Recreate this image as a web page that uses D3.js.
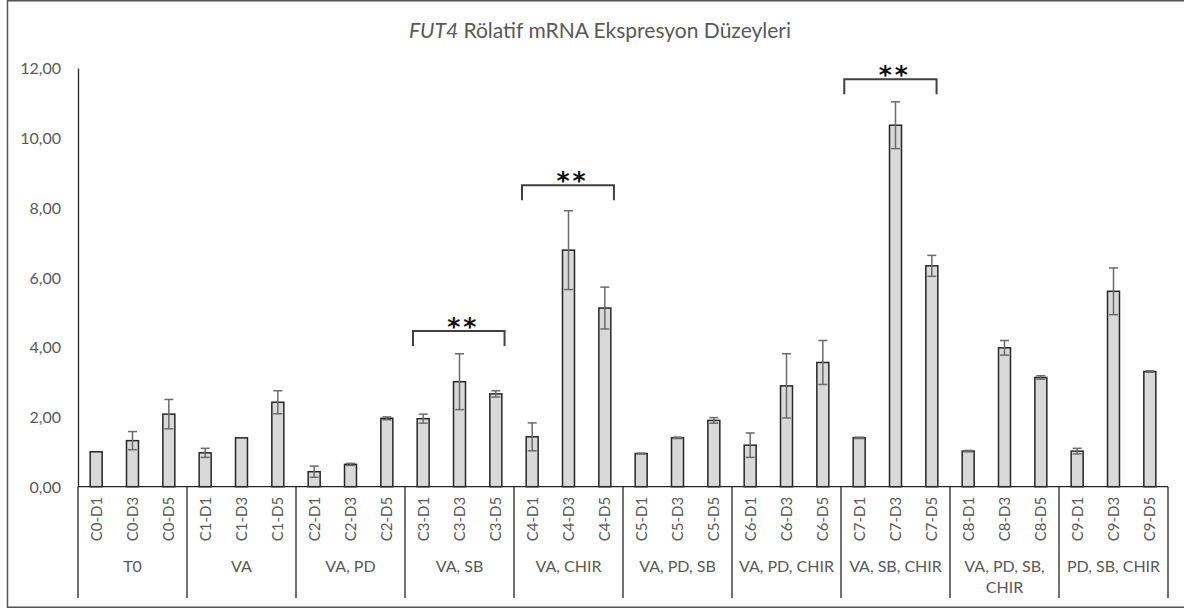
<!DOCTYPE html>
<html>
<head>
<meta charset="utf-8">
<script src="https://cdn.jsdelivr.net/npm/d3@7"></script>
<style>
  body { margin: 0; background: #fff; }
  text { font-family: Lato, "Open Sans", sans-serif; }
</style>
</head>
<body>
<script>
//data
var barLabels = ["C0-D1","C0-D3","C0-D5","C1-D1","C1-D3","C1-D5","C2-D1","C2-D3","C2-D5",
  "C3-D1","C3-D3","C3-D5","C4-D1","C4-D3","C4-D5","C5-D1","C5-D3","C5-D5",
  "C6-D1","C6-D3","C6-D5","C7-D1","C7-D3","C7-D5","C8-D1","C8-D3","C8-D5",
  "C9-D1","C9-D3","C9-D5"];
var barValues = [1.00,1.32,2.08, 0.97,1.40,2.42, 0.43,0.64,1.96,
  1.95,3.01,2.66, 1.43,6.78,5.12, 0.95,1.40,1.90,
  1.19,2.89,3.56, 1.40,10.36,6.33, 1.02,3.98,3.13,
  1.02,5.60,3.30];
var barErrors = [0,0.26,0.42, 0.13,0,0.33, 0.16,0.03,0.04,
  0.13,0.80,0.09, 0.40,1.13,0.60, 0.01,0.02,0.08,
  0.35,0.92,0.63, 0.02,0.67,0.30, 0.02,0.21,0.05,
  0.08,0.67,0.02];
var groupLabels = ["T0","VA","VA, PD","VA, SB","VA, CHIR","VA, PD, SB","VA, PD, CHIR",
  "VA, SB, CHIR","VA, PD, SB, CHIR","PD, SB, CHIR"];
var yTicks = [0,2,4,6,8,10,12];
//significance brackets: start/end in bar slots, height in data units
var sigStart = [9.22, 12.22, 21.09];
var sigEnd = [11.74, 14.75, 23.63];
var sigLevel = [4.46, 8.64, 11.68];
var sigText = ["**","**","**"];

var svgWidth = 1184;
var svgHeight = 609;
var plot = {left: 78, right: 1168, top: 68, bottom: 486.7};
var labelBottom = 598;

var svg = d3.select("body")
  .append("svg")
  .attr("width", svgWidth)
  .attr("height", svgHeight);

//outer frame
svg.append("rect")
  .attr("x", 7.5).attr("y", 0.75)
  .attr("width", 1190).attr("height", 606.5)
  .attr("fill", "none")
  .attr("stroke", "#555")
  .attr("stroke-width", 1.5);

//scales
var xScale = d3.scaleBand()
  .domain(barLabels)
  .range([plot.left, plot.right])
  .padding(0);
var slotScale = d3.scaleLinear()
  .domain([0, barLabels.length])
  .range([plot.left, plot.right]);
var yScale = d3.scaleLinear()
  .domain([0, 12])
  .range([plot.bottom, plot.top]);

var fmt = function(d) { return d3.format(".2f")(d).replace(".", ","); };

//y axis
var leftAxis = d3.axisLeft(yScale)
  .tickValues(yTicks)
  .tickSize(0)
  .tickPadding(17)
  .tickFormat(fmt);
var yAxis = svg.append("g")
  .attr("transform", `translate(${plot.left}, 0)`)
  .call(leftAxis);
yAxis.select(".domain").attr("stroke", "#262626").attr("stroke-width", 1.3);
yAxis.selectAll("text")
  .attr("fill", "#595959")
  .style("font-size", "16px")
  .attr("dy", "0.36em");

//left axis line carried down through the label area
svg.append("line")
  .attr("x1", plot.left).attr("x2", plot.left)
  .attr("y1", plot.bottom).attr("y2", labelBottom)
  .attr("stroke", "#262626").attr("stroke-width", 1.3);

//bars
var barW = xScale.bandwidth() * 0.33;
svg.append("g").selectAll("rect")
  .data(barLabels)
  .enter()
  .append("rect")
  .attr("x", d => xScale(d) + xScale.bandwidth() / 2 - barW / 2)
  .attr("y", (d, i) => yScale(barValues[i]))
  .attr("width", barW)
  .attr("height", (d, i) => plot.bottom - yScale(barValues[i]))
  .attr("fill", "#d9d9d9")
  .attr("stroke", "#262626")
  .attr("stroke-width", 1.5);

//error bars
var errGroup = svg.append("g")
  .attr("stroke", "#6b6b6b")
  .attr("stroke-width", 1.5);
barLabels.forEach(function(d, i) {
  if (barErrors[i] <= 0) return;
  var cx = xScale(d) + xScale.bandwidth() / 2;
  var hi = yScale(barValues[i] + barErrors[i]);
  var lo = yScale(barValues[i] - barErrors[i]);
  errGroup.append("line").attr("x1", cx).attr("x2", cx).attr("y1", hi).attr("y2", lo);
  errGroup.append("line").attr("x1", cx - 4.5).attr("x2", cx + 4.5).attr("y1", hi).attr("y2", hi);
  errGroup.append("line").attr("x1", cx - 4.5).attr("x2", cx + 4.5).attr("y1", lo).attr("y2", lo);
});

//x axis baseline
svg.append("line")
  .attr("x1", plot.left).attr("x2", plot.right)
  .attr("y1", plot.bottom).attr("y2", plot.bottom)
  .attr("stroke", "#262626").attr("stroke-width", 1.3);

//rotated bar labels
svg.append("g").selectAll("text")
  .data(barLabels)
  .enter()
  .append("text")
  .attr("transform", d => `translate(${xScale(d) + xScale.bandwidth() / 2}, 519) rotate(-90)`)
  .attr("text-anchor", "middle")
  .attr("dy", "0.36em")
  .attr("fill", "#595959")
  .style("font-size", "15px")
  .text(d => d);

//group separators and group labels
var groupSize = 3;
groupLabels.forEach(function(g, gi) {
  var x0 = slotScale(gi * groupSize);
  var x1 = slotScale((gi + 1) * groupSize);
  svg.append("line")
    .attr("x1", x1).attr("x2", x1)
    .attr("y1", plot.bottom).attr("y2", labelBottom)
    .attr("stroke", "#262626").attr("stroke-width", 1.3);

  var label = svg.append("text")
    .attr("x", (x0 + x1) / 2)
    .attr("y", 572)
    .attr("text-anchor", "middle")
    .attr("fill", "#595959")
    .style("font-size", "16px")
    .text(g);
  //wrap labels wider than the group
  if (label.node().getComputedTextLength() > (x1 - x0) - 8) {
    var words = g.split(" ");
    var first = words.slice(0, words.length - 1).join(" ");
    var last = words[words.length - 1];
    label.text(null);
    label.append("tspan").attr("x", (x0 + x1) / 2).text(first);
    label.append("tspan").attr("x", (x0 + x1) / 2).attr("dy", 21).text(last);
  }
});

//significance brackets
var sigGroup = svg.append("g");
sigLevel.forEach(function(lv, i) {
  var xa = slotScale(sigStart[i]);
  var xb = slotScale(sigEnd[i]);
  var yb = yScale(lv);
  sigGroup.append("path")
    .attr("d", `M${xa},${yb + 15}V${yb}H${xb}V${yb + 15}`)
    .attr("fill", "none")
    .attr("stroke", "#404040")
    .attr("stroke-width", 2);
  var mid = (xa + xb) / 2 + 3;
  sigText[i].split("").forEach(function(s, k) {
    sigGroup.append("text")
      .attr("x", mid + (k === 0 ? -8 : 8))
      .attr("y", yb + 4)
      .attr("text-anchor", "middle")
      .attr("fill", "#111")
      .style("font-family", "'DejaVu Sans', sans-serif")
      .style("font-size", "25px")
      .style("font-weight", "bold")
      .text(s);
  });
});

//title
var title = svg.append("text")
  .attr("x", 600)
  .attr("y", 38)
  .attr("text-anchor", "middle")
  .attr("fill", "#595959")
  .style("font-size", "21px");
title.append("tspan").style("font-style", "italic").text("FUT4");
title.append("tspan").text(" Rölatif mRNA Ekspresyon Düzeyleri");
</script>
</body>
</html>
